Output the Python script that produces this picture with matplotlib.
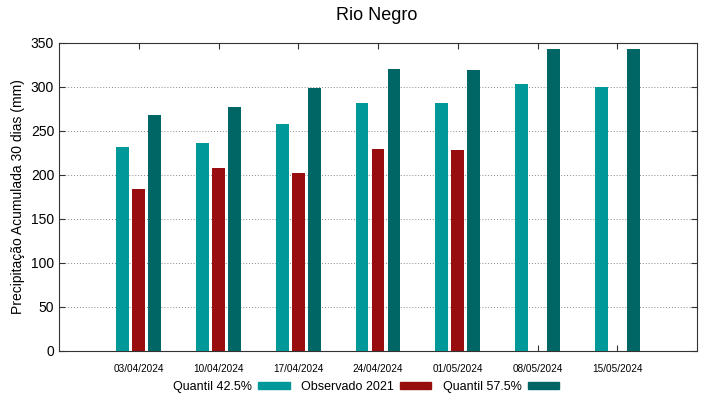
import numpy as np
import matplotlib
matplotlib.use('Agg')
import matplotlib.pyplot as plt
from matplotlib.patches import Patch

plt.rcParams['font.family'] = ['Liberation Sans', 'DejaVu Sans']

# data
datas = ['03/04/2024', '10/04/2024', '17/04/2024', '24/04/2024',
         '01/05/2024', '08/05/2024', '15/05/2024']
q425 = [232, 236, 258, 282, 282, 303, 300]
obs2021 = [184, 208, 202, 230, 228, np.nan, np.nan]
q575 = [268, 277, 299, 320, 319, 343, 343]

cor_q425 = '#009898'
cor_obs = '#980e0e'
cor_q575 = '#006565'

x = np.arange(len(datas))
w = 0.16

fig = plt.figure(figsize=(7.19, 3.99), dpi=100)
ax = fig.add_axes([59/719, 1-351/399, 638/719, 308/399])

ax.bar(x - 0.2, q425, w, color=cor_q425, zorder=3)
ax.bar(x, obs2021, w, color=cor_obs, zorder=3)
ax.bar(x + 0.2, q575, w, color=cor_q575, zorder=3)

ax.set_xlim(-1, 7)
ax.set_ylim(0, 350)
ax.set_xticks(x)
ax.set_xticklabels(datas, fontsize=7.2)
ax.set_yticks(np.arange(0, 351, 50))
ax.tick_params(axis='y', labelsize=10)
ax.tick_params(direction='in', top=True, right=True, length=4, color='#333333')
ax.tick_params(axis='x', pad=9)
ax.yaxis.grid(True, linestyle=(0, (1, 2)), color='#888888', linewidth=0.7)
for s in ax.spines.values():
    s.set_color('#333333')

ax.set_ylabel('Precipitação Acumulada 30 dias (mm)', fontsize=10, labelpad=4)
fig.text(377/719, 1-16/399, 'Rio Negro', ha='center', va='center', fontsize=13)

handles = [Patch(color=cor_q425), Patch(color=cor_obs), Patch(color=cor_q575)]
labels = ['Quantil 42.5%', 'Observado 2021', 'Quantil 57.5%']
fig.legend(handles, labels, loc='center', bbox_to_anchor=(366/719, 1-387/399),
           ncol=3, frameon=False, markerfirst=False, fontsize=9,
           handlelength=2.5, handleheight=0.5, columnspacing=0.9, handletextpad=0.5)

fig.savefig('out.png', dpi=100)
